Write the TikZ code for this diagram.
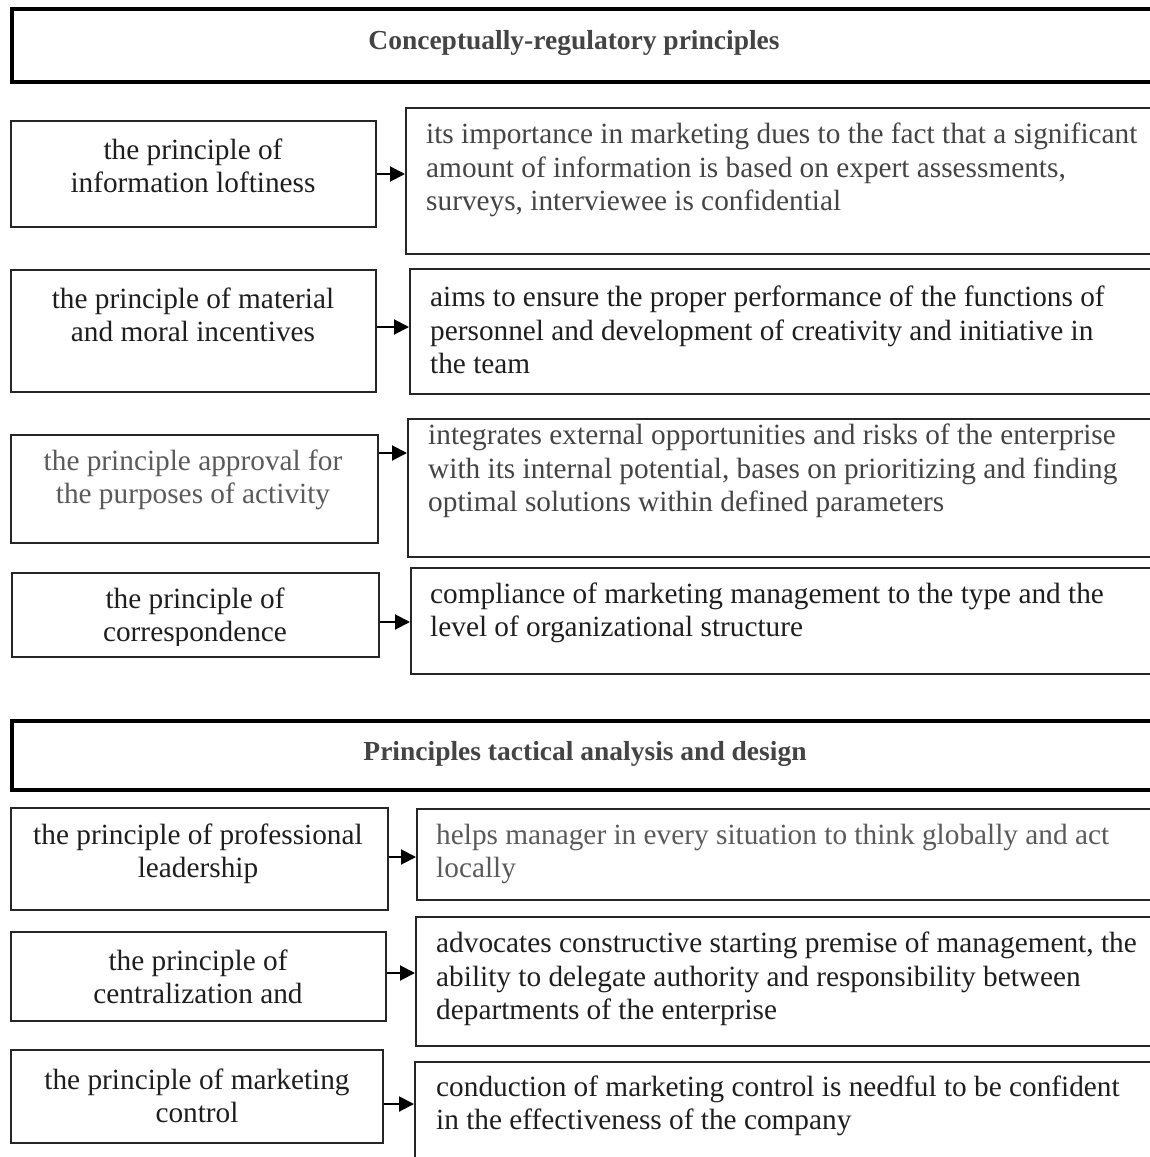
\documentclass[tikz,border=0pt]{standalone}
\usepackage{fontspec}
\setmainfont{Liberation Serif}
\usetikzlibrary{arrows.meta}
\definecolor{ink}{HTML}{1E1E1E}
\definecolor{inkgray}{HTML}{444444}
\definecolor{lightink}{HTML}{5A5A5A}
\tikzset{
  headbox/.style={draw=black, line width=4pt},
  lbox/.style={draw=black!85, line width=2pt},
  rbox/.style={draw=black!85, line width=2pt},
  ctext/.style={align=center, inner sep=0pt, text=ink, font=\fontsize{29.3}{33.5}\selectfont},
  ltext/.style={align=left, inner sep=0pt, anchor=west, text=ink, font=\fontsize{29.3}{33.5}\selectfont},
  htext/.style={inner sep=0pt, text=inkgray, font=\fontsize{27.5}{30}\selectfont\bfseries},
  arr/.style={line width=2pt, -{Triangle[length=15pt,width=15pt]}},
}
\begin{document}
\begin{tikzpicture}[x=1pt,y=-1pt]
\useasboundingbox (0,0) rectangle (1150,1157);
\clip (0,0) rectangle (1150,1157);
% headers
\draw[headbox] (12,9) rectangle (1170,82);
\node[htext] (h1) at (574,43) {Conceptually-regulatory principles};
\draw[headbox] (12,721) rectangle (1170,790);
\node[htext] (h2) at (585,754) {Principles tactical analysis and design};

% row 1
\node[lbox, minimum width=365pt, minimum height=106pt] (l1) at (193.5,174) {};
\node[ctext] (t1) at (193,166) {the principle of\\information loftiness};
\node[rbox, anchor=north west, minimum width=800pt, minimum height=146pt] (r1) at (405,107) {};
\node[ltext, text=inkgray] (s1) at (426,170) {its importance in marketing dues to the fact that a significant\\amount of information is based on expert assessments,\\surveys, interviewee is confidential};
\coordinate (a1) at (0,174);
\draw[arr] (l1.east|-a1) -- (r1.west|-a1);

% row 2
\node[lbox, minimum width=365pt, minimum height=122pt] (l2) at (193.5,331) {};
\node[ctext] (t2) at (193,315) {the principle of material\\and moral incentives};
\node[rbox, anchor=north west, minimum width=800pt, minimum height=125pt] (r2) at (409,268) {};
\node[ltext] (s2) at (430,330) {aims to ensure the proper performance of the functions of\\personnel and development of creativity and initiative in\\the team};
\coordinate (a2) at (0,327);
\draw[arr] (l2.east|-a2) -- (r2.west|-a2);

% row 3
\node[lbox, minimum width=367pt, minimum height=108pt] (l3) at (194.5,489) {};
\node[ctext, text=lightink] (t3) at (193,480) {the principle approval for\\the purposes of activity};
\node[rbox, anchor=north west, minimum width=800pt, minimum height=138pt] (r3) at (407,418) {};
\node[ltext, text=inkgray] (s3) at (428,471) {integrates external opportunities and risks of the enterprise\\with its internal potential, bases on prioritizing and finding\\optimal solutions within defined parameters};
\coordinate (a3) at (0,453);
\draw[arr] (l3.east|-a3) -- (r3.west|-a3);

% row 4
\node[lbox, minimum width=367pt, minimum height=84pt] (l4) at (195.5,615) {};
\begin{scope}
\clip (14,575) rectangle (376,645);
\node[ctext] (t4) at (195,618) {the principle of\\correspondence};
\end{scope}
\node[rbox, anchor=north west, minimum width=800pt, minimum height=106pt] (r4) at (410,567) {};
\node[ltext] (s4) at (430,613) {compliance of marketing management to the type and the\\level of organizational structure};
\coordinate (a4) at (0,622);
\draw[arr] (l4.east|-a4) -- (r4.west|-a4);

% row 5
\node[lbox, minimum width=377pt, minimum height=102pt] (l5) at (199.5,859) {};
\node[ctext] (t5) at (198,854) {the principle of professional\\leadership};
\node[rbox, anchor=north west, minimum width=800pt, minimum height=91pt] (r5) at (416,808) {};
\node[ltext, text=lightink] (s5) at (436,854) {helps manager in every situation to think globally and act\\locally};
\coordinate (a5) at (0,857);
\draw[arr] (l5.east|-a5) -- (r5.west|-a5);

% row 6
\node[lbox, minimum width=375pt, minimum height=89pt] (l6) at (198.5,976) {};
\node[ctext] (t6) at (198,977) {the principle of\\centralization and};
\node[rbox, anchor=north west, minimum width=800pt, minimum height=129pt] (r6) at (415,916) {};
\node[ltext] (s6) at (436,979) {advocates constructive starting premise of management, the\\ability to delegate authority and responsibility between\\departments of the enterprise};
\coordinate (a6) at (0,973);
\draw[arr] (l6.east|-a6) -- (r6.west|-a6);

% row 7
\node[lbox, minimum width=372pt, minimum height=93pt] (l7) at (197,1096.5) {};
\node[ctext] (t7) at (197,1096) {the principle of marketing\\control};
\node[rbox, anchor=north west, minimum width=800pt, minimum height=140pt] (r7) at (414,1061) {};
\node[ltext] (s7) at (436,1106) {conduction of marketing control is needful to be confident\\in the effectiveness of the company};
\coordinate (a7) at (0,1104);
\draw[arr] (l7.east|-a7) -- (r7.west|-a7);
\end{tikzpicture}
\end{document}
